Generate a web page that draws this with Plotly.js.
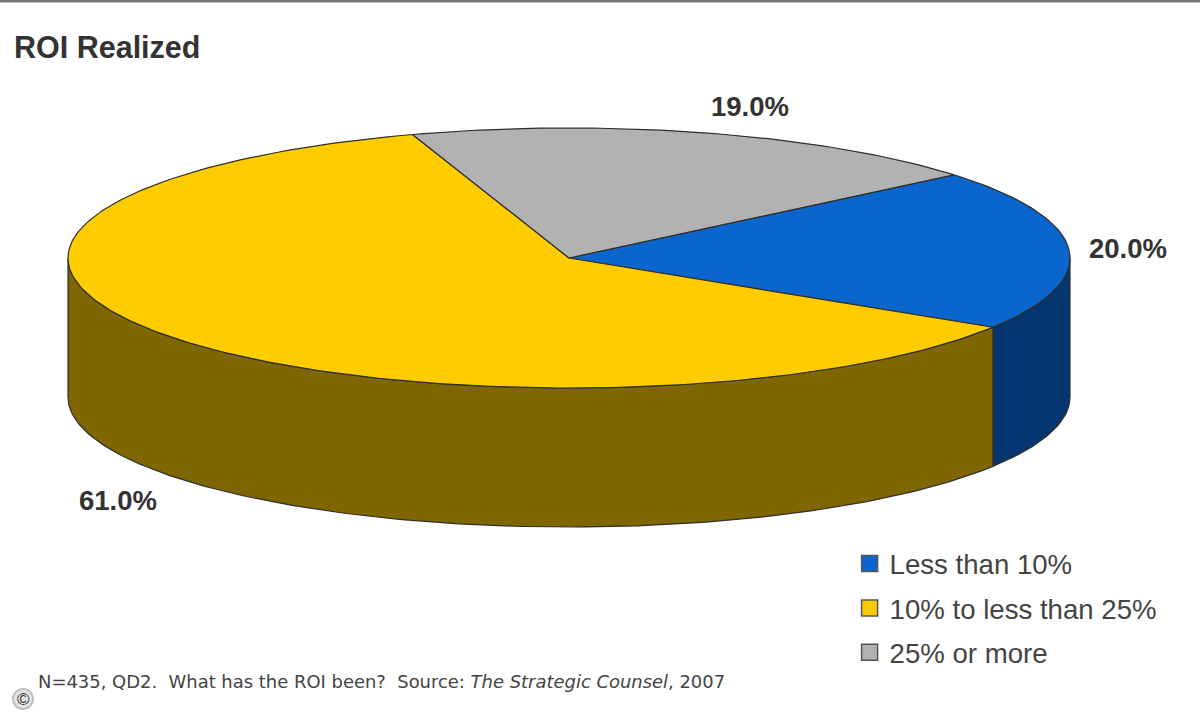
<!DOCTYPE html>
<html>
<head>
<meta charset="utf-8">
<script src="https://cdn.plot.ly/plotly-3.0.1.min.js"></script>
<style>html,body{margin:0;padding:0;background:#fff}#chart{width:1200px;height:720px}</style>
</head>
<body>
<div id="chart"></div>
<script>
// Chart data
const categories = ['Less than 10%', '10% to less than 25%', '25% or more'];
const shares = [20.0, 61.0, 19.0];
const topColors = ['#0a66cc', '#ffcc00', '#b2b2b2'];
const sideColors = ['#063670', '#7f6600', '#5a5a5a'];

// Pie projection
const cx = 569, cy = 258, rx = 501, ry = 130, depth = 139;
const firstSliceStart = 39.8;   // math degrees where the first slice begins, clockwise from there
const outline = '#2e2e2e';

function pt(deg, dy) {
  const a = deg * Math.PI / 180;
  return [cx + rx * Math.cos(a), cy - ry * Math.sin(a) + (dy || 0)];
}
function arc(from, to, dy) {
  const out = [], n = Math.max(2, Math.ceil(Math.abs(to - from)));
  for (let i = 0; i <= n; i++) out.push(pt(from + (to - from) * i / n, dy));
  return out;
}
function poly(points, fill, lineWidth) {
  return {
    type: 'scatter', mode: 'lines', showlegend: false, hoverinfo: 'skip',
    x: points.map(p => p[0]), y: points.map(p => p[1]),
    fill: 'toself', fillcolor: fill,
    line: {color: outline, width: lineWidth, shape: 'linear'}
  };
}

const walls = [], tops = [];
let start = firstSliceStart;
shares.forEach((v, i) => {
  const end = start - v * 3.6;
  // Wall: the part of the slice edge lying on the front half of the ellipse (0 to -180 deg)
  const wFrom = Math.min(start, 0), wTo = Math.max(end, -180);
  if (wFrom > wTo) {
    const rim = arc(wFrom, wTo, 0), base = arc(wTo, wFrom, depth);
    walls.push(poly(rim.concat(base, [rim[0]]), sideColors[i], 1.2));
  }
  tops.push(poly([[cx, cy]].concat(arc(start, end, 0), [[cx, cy]]), topColors[i], 1.2));
  start = end;
});

const legendKeys = categories.map((c, i) => ({
  type: 'scatter', mode: 'markers', x: [null], y: [null], name: c,
  legendgroup: c, hoverinfo: 'skip',
  marker: {symbol: 'square', size: 20, color: topColors[i], line: {color: '#555', width: 1.5}}
}));

const labelFont = {family: 'Liberation Sans, Arial, sans-serif', size: 27.5, color: '#333'};
const labelPos = [[1128, 248], [118, 500], [750, 106]];
const valueLabels = shares.map((v, i) => ({
  x: labelPos[i][0], y: labelPos[i][1], xref: 'x', yref: 'y', showarrow: false,
  text: '<b>' + v.toFixed(1) + '%</b>', font: labelFont
}));

const layout = {
  width: 1200, height: 720,
  margin: {l: 0, r: 0, t: 0, b: 0},
  paper_bgcolor: '#fff', plot_bgcolor: '#fff',
  xaxis: {range: [0, 1200], visible: false, fixedrange: true},
  yaxis: {range: [720, 0], visible: false, fixedrange: true},
  showlegend: true,
  legend: {
    x: 0.708, y: 0.2513, xanchor: 'left', yanchor: 'top',
    font: {family: 'Liberation Sans, Arial, sans-serif', size: 27.6, color: '#444'},
    bgcolor: 'rgba(0,0,0,0)', borderwidth: 0,
    tracegroupgap: 5.5, itemwidth: 30, traceorder: 'grouped', itemclick: false, itemdoubleclick: false
  },
  shapes: [
    {type: 'rect', xref: 'x', yref: 'y', x0: 0, x1: 1200, y0: 0, y1: 2.5, fillcolor: '#777', line: {width: 0}},
    {type: 'circle', xref: 'x', yref: 'y', x0: 13, x1: 33, y0: 689, y1: 709, fillcolor: '#e4e4e4', line: {color: '#c0c0c0', width: 2}}
  ],
  annotations: [
    {x: 12, y: 47, xref: 'x', yref: 'y', xanchor: 'left', showarrow: false,
     text: '<b>ROI Realized</b>', font: {family: 'Liberation Sans, Arial, sans-serif', size: 30.5, color: '#333'}},
    {x: 36, y: 681, xref: 'x', yref: 'y', xanchor: 'left', showarrow: false,
     text: 'N=435, QD2.  What has the ROI been?  Source: <i>The Strategic Counsel</i>, 2007',
     font: {family: 'DejaVu Sans, sans-serif', size: 17.95, color: '#444'}},
    {x: 23, y: 699, xref: 'x', yref: 'y', showarrow: false, text: '©',
     font: {family: 'Liberation Sans, Arial, sans-serif', size: 17, color: '#333'}}
  ].concat(valueLabels)
};

Plotly.newPlot('chart', walls.concat(tops, legendKeys), layout, {displayModeBar: false});
</script>
</body>
</html>
